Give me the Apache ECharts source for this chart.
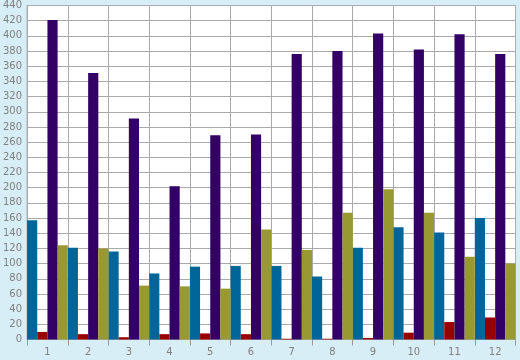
<!DOCTYPE html>
<html>
<head>
<meta charset="utf-8">
<script src="https://cdn.jsdelivr.net/npm/echarts@6/dist/echarts.min.js"></script>
<style>
html,body{margin:0;padding:0;background:#d8eef6;}
#c{width:520px;height:360px;}
</style>
</head>
<body>
<div id="c"></div>
<script>
var categories = ['1','2','3','4','5','6','7','8','9','10','11','12'];
var seriesBlue   = [157,121,116,87,96,97,97,83,121,148,141,160];
var seriesRed    = [10,7,3,7,8,7,1,1,2,9,23,29];
var seriesPurple = [421,351,291,202,269,270,376,380,403,382,402,376];
var seriesOlive  = [124,120,71,70,67,145,118,167,198,167,109,100];
var colors = ['#006699','#990000','#330066','#999933'];

var chart = echarts.init(document.getElementById('c'), null, {renderer:'canvas'});
var lblFont = {color:'#808080', fontFamily:'DejaVu Sans', fontSize:10};
function mk(data, i){
  return {type:'bar', data:data, barGap:'0%', barCategoryGap:'0%',
    itemStyle:{color:colors[i]}, animation:false};
}
chart.setOption({
  backgroundColor:'#d8eef6',
  animation:false,
  grid:{left:26.5, right:4.5, top:5.5, bottom:20.5, show:true, backgroundColor:'#ffffff', borderColor:'#aaaaaa', borderWidth:1},
  xAxis:{type:'category', data:categories,
    axisLine:{show:true, lineStyle:{color:'#aaaaaa'}},
    axisTick:{show:true, length:6, lineStyle:{color:'#999999'}},
    splitLine:{show:true, interval:0, lineStyle:{color:'#aaaaaa'}},
    axisLabel:Object.assign({margin:8, interval:0}, lblFont)},
  yAxis:{type:'value', min:0, max:440, interval:20,
    axisLine:{show:true, lineStyle:{color:'#aaaaaa'}},
    axisTick:{show:false},
    splitLine:{show:true, lineStyle:{color:'#aaaaaa'}},
    axisLabel:Object.assign({margin:5}, lblFont)},
  series:[mk(seriesBlue,0), mk(seriesRed,1), mk(seriesPurple,2), mk(seriesOlive,3)]
});
</script>
</body>
</html>
